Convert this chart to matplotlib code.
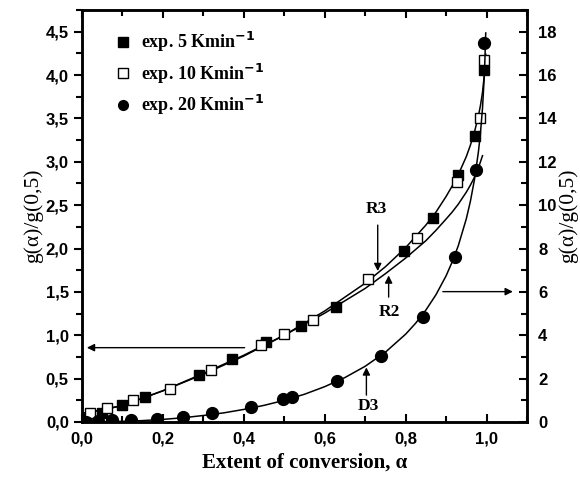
import numpy as np
import matplotlib
matplotlib.use("Agg")
import matplotlib.pyplot as plt
from matplotlib.ticker import MultipleLocator, FuncFormatter
from matplotlib.lines import Line2D

# experimental points, exp. 5 K/min (left axis)
a_5 = [0.01, 0.05, 0.098, 0.156, 0.289, 0.37, 0.454, 0.542, 0.629, 0.795, 0.867, 0.929, 0.972, 0.993]
g_5 = [0.03, 0.10, 0.20, 0.29, 0.54, 0.73, 0.92, 1.11, 1.33, 1.97, 2.35, 2.85, 3.30, 4.06]

# exp. 10 K/min (left axis)
a_10 = [0.02, 0.061, 0.125, 0.217, 0.32, 0.442, 0.50, 0.571, 0.707, 0.828, 0.928, 0.983, 0.994]
g_10 = [0.10, 0.16, 0.25, 0.38, 0.60, 0.89, 1.01, 1.18, 1.65, 2.12, 2.77, 3.51, 4.17]

# exp. 20 K/min (right axis)
a_20 = [0.01, 0.04, 0.075, 0.122, 0.186, 0.25, 0.322, 0.417, 0.497, 0.52, 0.63, 0.74, 0.843, 0.923, 0.974, 0.993]
g_20 = [0.02, 0.04, 0.07, 0.10, 0.15, 0.25, 0.40, 0.70, 1.05, 1.15, 1.88, 3.05, 4.86, 7.63, 11.6, 17.47]

# model curves
a_r3 = [0.0, 0.05, 0.1, 0.2, 0.3, 0.4, 0.5, 0.6, 0.7, 0.75, 0.8, 0.825, 0.85, 0.875, 0.9, 0.915,
        0.93, 0.95, 0.96, 0.97, 0.98, 0.985, 0.99, 0.995, 0.998]
g_r3 = [0.10, 0.14, 0.19, 0.36, 0.55, 0.76, 1.0, 1.28, 1.60, 1.79, 2.01, 2.14, 2.27, 2.42, 2.60, 2.72,
        2.85, 3.06, 3.19, 3.34, 3.53, 3.65, 3.80, 4.02, 4.24]

a_r2 = [0.0, 0.05, 0.1, 0.2, 0.3, 0.4, 0.5, 0.6, 0.7, 0.75, 0.8, 0.825, 0.85, 0.875, 0.9, 0.915,
        0.93, 0.95, 0.96, 0.97, 0.98, 0.985, 0.99]
g_r2 = [0.10, 0.14, 0.19, 0.36, 0.56, 0.77, 1.0, 1.255, 1.54, 1.71, 1.89, 1.99, 2.09, 2.21, 2.34, 2.42,
        2.51, 2.65, 2.73, 2.82, 2.93, 3.00, 3.07]

a_d3 = [0.0, 0.1, 0.15, 0.2, 0.25, 0.3, 0.35, 0.4, 0.45, 0.5, 0.55, 0.6, 0.65, 0.7, 0.75, 0.8, 0.825,
        0.85, 0.875, 0.9, 0.915, 0.93, 0.95, 0.96, 0.97, 0.98, 0.985, 0.99, 0.995, 0.998]
g_d3 = [0.0, 0.03, 0.065, 0.12, 0.196, 0.30, 0.42, 0.58, 0.767, 1.0, 1.28, 1.63, 2.05, 2.57, 3.22, 4.05, 4.56,
        5.16, 5.87, 6.74, 7.38, 8.12, 9.37, 10.17, 11.16, 12.47, 13.33, 14.46, 16.14, 17.94]

plt.rcParams['font.family'] = ['Liberation Sans', 'DejaVu Sans']
serif = ['Liberation Serif', 'DejaVu Serif']

fig = plt.figure(figsize=(5.8, 4.83), dpi=100)
ax = fig.add_axes([0.1414, 0.1263, 0.7672, 0.853])
ax2 = ax.twinx()

ax.plot(a_r3, g_r3, color='k', lw=1.1, zorder=2)
ax.plot(a_r2, g_r2, color='k', lw=1.1, zorder=2)
ax.plot(a_5, g_5, ls='none', marker='s', ms=7.5, mfc='k', mec='k', zorder=3)
ax.plot(a_10, g_10, ls='none', marker='s', ms=7.5, mfc='white', mec='k', mew=1.0, zorder=4)

ax2.plot(a_d3, g_d3, color='k', lw=1.1, zorder=2)
ax2.plot(a_20, g_20, ls='none', marker='o', ms=8.5, mfc='k', mec='k', zorder=3)

ax.set_xlim(0, 1.1)
ax.set_ylim(0, 4.75)
ax2.set_ylim(0, 19.0)

comma = FuncFormatter(lambda v, p: f"{v:.1f}".replace('.', ','))
ax.xaxis.set_major_locator(MultipleLocator(0.2))
ax.xaxis.set_minor_locator(MultipleLocator(0.1))
ax.xaxis.set_major_formatter(comma)
ax.yaxis.set_major_locator(MultipleLocator(0.5))
ax.yaxis.set_minor_locator(MultipleLocator(0.25))
ax.yaxis.set_major_formatter(comma)
ax2.yaxis.set_major_locator(MultipleLocator(2))
ax2.yaxis.set_minor_locator(MultipleLocator(1))

for a in (ax, ax2):
    for s in a.spines.values():
        s.set_linewidth(1.8)
ax.tick_params(axis='x', which='both', direction='in', top=True, width=1.5, labelsize=12, pad=7)
ax.tick_params(axis='x', which='major', length=6)
ax.tick_params(axis='x', which='minor', length=4)
ax.tick_params(axis='y', which='both', direction='out', width=1.5, labelsize=12)
ax.tick_params(axis='y', which='major', length=6)
ax.tick_params(axis='y', which='minor', length=4)
ax2.tick_params(axis='y', which='both', direction='in', width=1.5, labelsize=12, pad=8)
ax2.tick_params(axis='y', which='major', length=6)
ax2.tick_params(axis='y', which='minor', length=4)
for lab in ax.get_xticklabels() + ax.get_yticklabels() + ax2.get_yticklabels():
    lab.set_fontweight('bold')

ax.set_xlabel('Extent of conversion, α', family=serif, fontsize=15, fontweight='bold', labelpad=4)
ax.set_ylabel('g(α)/g(0,5)', family=serif, fontsize=15.5, labelpad=2)
ax2.set_ylabel('g(α)/g(0,5)', family=serif, fontsize=15.5, labelpad=1)

# arrows and labels
arr = dict(arrowstyle='-|>', color='k', lw=1.0, mutation_scale=11, shrinkA=0, shrinkB=0)
ax.annotate('', xy=(0.012, 0.857), xytext=(0.402, 0.857), arrowprops=arr)
ax.annotate('', xy=(1.065, 1.503), xytext=(0.892, 1.503), arrowprops=arr)
ax.annotate('', xy=(0.731, 1.74), xytext=(0.731, 2.27), arrowprops=arr)
ax.annotate('', xy=(0.758, 1.69), xytext=(0.758, 1.44), arrowprops=arr)
ax.annotate('', xy=(0.703, 0.63), xytext=(0.703, 0.31), arrowprops=arr)
tkw = dict(family=serif, fontsize=12.5, fontweight='bold', ha='center', va='center')
ax.text(0.728, 2.45, 'R3', **tkw)
ax.text(0.760, 1.27, 'R2', **tkw)
ax.text(0.709, 0.19, 'D3', **tkw)

handles = [
    Line2D([], [], ls='none', marker='s', ms=6.5, mfc='k', mec='k'),
    Line2D([], [], ls='none', marker='s', ms=6.5, mfc='white', mec='k'),
    Line2D([], [], ls='none', marker='o', ms=7, mfc='k', mec='k'),
]
labels = ['exp. 5 Kmin$^{\\mathbf{-1}}$', 'exp. 10 Kmin$^{\\mathbf{-1}}$', 'exp. 20 Kmin$^{\\mathbf{-1}}$']
leg = ax2.legend(handles, labels, loc='upper left', bbox_to_anchor=(0.04, 0.99), frameon=False,
                 prop=dict(family=serif, size=13, weight='bold'), handlelength=0.8,
                 handletextpad=0.6, labelspacing=0.4)

fig.savefig('out.png', dpi=100)
